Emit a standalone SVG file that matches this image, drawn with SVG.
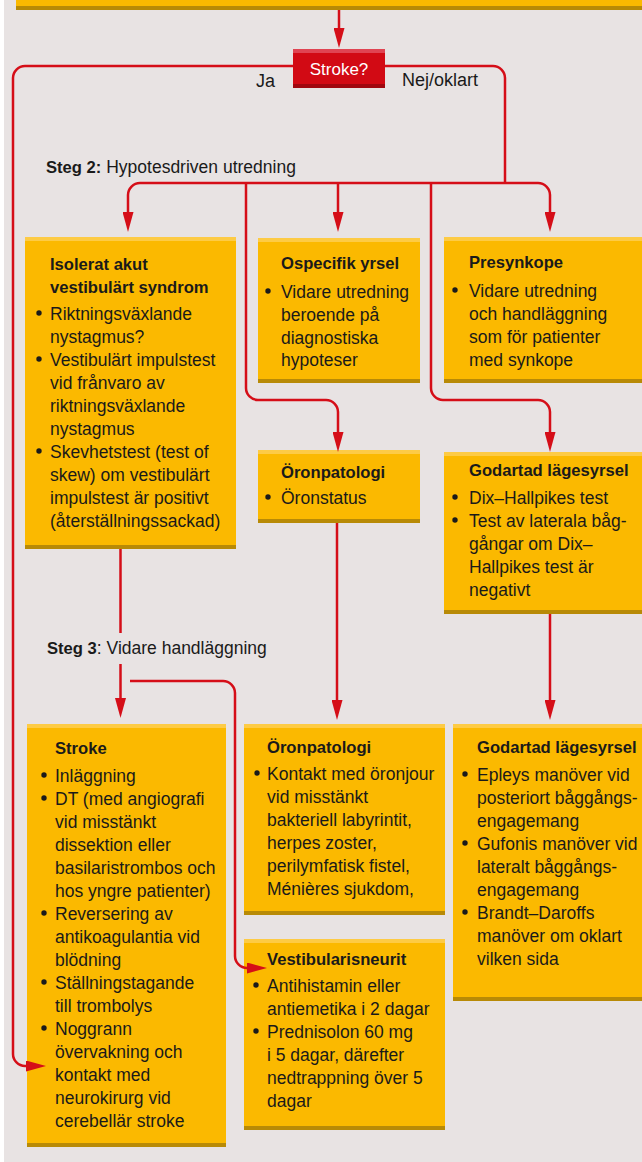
<svg xmlns="http://www.w3.org/2000/svg" width="642" height="1162" viewBox="0 0 642 1162">
<defs>
<style>
.bg{fill:#E8E3E3}
.box{fill:#FBB900}
.top{fill:#FDCB45}
.bot{fill:#B88A06}
.t{font-family:"Liberation Sans",Arial,sans-serif;font-size:17.5px;fill:#1A1A1A}
.b{font-family:"Liberation Sans",Arial,sans-serif;font-size:16.6px;font-weight:bold;fill:#1A1A1A}
.dot{fill:#1A1A1A}
.ln{fill:none;stroke:#D50E18;stroke-width:2.5}
.arr{marker-end:url(#ah)}
</style>
<marker id="ah" markerUnits="userSpaceOnUse" markerWidth="20" markerHeight="11" viewBox="0 0 20 11" refX="4" refY="5.5" orient="auto">
<path d="M0,0 L20,5.5 L0,11 z" fill="#D50E18"/>
</marker>
</defs>
<rect x="0" y="0" width="642" height="1162" fill="#FFFFFF"/>
<rect class="bg" x="4" y="0" width="638" height="1162"/>

<g id="top-box">
<rect class="box" x="16" y="0" width="626" height="10"/>
<rect class="bot" x="16" y="6" width="626" height="4"/>
</g>

<g id="stroke-decision">
<rect x="293" y="49" width="92" height="39" fill="#D20A14"/>
<rect x="293" y="49" width="92" height="4" fill="#E04452"/>
<rect x="293" y="84" width="92" height="4" fill="#A0070F"/>
<text x="339" y="75" text-anchor="middle" style="font-family:'Liberation Sans',Arial,sans-serif;font-size:17px;fill:#FFFFFF">Stroke?</text>
</g>

<g id="labels">
<text class="t" x="256" y="87" style="font-size:18px">Ja</text>
<text class="t" x="402" y="86" style="font-size:18px">Nej/oklart</text>
<text class="t" x="46" y="173"><tspan class="b">Steg 2:</tspan> Hypotesdriven utredning</text>
<text class="t" x="47" y="654"><tspan class="b">Steg 3</tspan>: Vidare handläggning</text>
</g>

<g id="isolerat">
<rect class="box" x="25" y="237" width="211" height="312"/>
<rect class="top" x="25" y="237" width="211" height="4"/>
<rect class="bot" x="25" y="545" width="211" height="4"/>
<text class="b" x="50" y="270">Isolerat akut</text>
<text class="b" x="50" y="293">vestibulärt syndrom</text>
<circle class="dot" cx="39" cy="313" r="2.7"/>
<circle class="dot" cx="39" cy="359" r="2.7"/>
<circle class="dot" cx="39" cy="451" r="2.7"/>
<text class="t" x="50" y="320">Riktningsväxlande</text>
<text class="t" x="50" y="343">nystagmus?</text>
<text class="t" x="50" y="366">Vestibulärt impulstest</text>
<text class="t" x="50" y="389">vid frånvaro av</text>
<text class="t" x="50" y="412">riktningsväxlande</text>
<text class="t" x="50" y="435">nystagmus</text>
<text class="t" x="50" y="458">Skevhetstest (test of</text>
<text class="t" x="50" y="481">skew) om vestibulärt</text>
<text class="t" x="50" y="504">impulstest är positivt</text>
<text class="t" x="50" y="527">(återställningssackad)</text>
</g>

<g id="ospecifik">
<rect class="box" x="258" y="238" width="162" height="145"/>
<rect class="top" x="258" y="238" width="162" height="4"/>
<rect class="bot" x="258" y="379" width="162" height="4"/>
<text class="b" x="281" y="269">Ospecifik yrsel</text>
<circle class="dot" cx="268" cy="291" r="2.7"/>
<text class="t" x="281" y="298">Vidare utredning</text>
<text class="t" x="281" y="321">beroende på</text>
<text class="t" x="281" y="344">diagnostiska</text>
<text class="t" x="281" y="366">hypoteser</text>
</g>

<g id="presynkope">
<rect class="box" x="444" y="237" width="198" height="146"/>
<rect class="top" x="444" y="237" width="198" height="4"/>
<rect class="bot" x="444" y="379" width="198" height="4"/>
<text class="b" x="469" y="268">Presynkope</text>
<circle class="dot" cx="455" cy="290" r="2.7"/>
<text class="t" x="469" y="297">Vidare utredning</text>
<text class="t" x="469" y="320">och handläggning</text>
<text class="t" x="469" y="343">som för patienter</text>
<text class="t" x="469" y="366">med synkope</text>
</g>

<g id="oronpatologi-1">
<rect class="box" x="258" y="450" width="162" height="73"/>
<rect class="top" x="258" y="450" width="162" height="4"/>
<rect class="bot" x="258" y="519" width="162" height="4"/>
<text class="b" x="281" y="478">Öronpatologi</text>
<circle class="dot" cx="268" cy="497" r="2.7"/>
<text class="t" x="281" y="504">Öronstatus</text>
</g>

<g id="godartad-1">
<rect class="box" x="444" y="452" width="198" height="162"/>
<rect class="top" x="444" y="452" width="198" height="4"/>
<rect class="bot" x="444" y="610" width="198" height="4"/>
<text class="b" x="469" y="476">Godartad lägesyrsel</text>
<circle class="dot" cx="455" cy="497" r="2.7"/>
<circle class="dot" cx="455" cy="520" r="2.7"/>
<text class="t" x="469" y="504">Dix–Hallpikes test</text>
<text class="t" x="469" y="527">Test av laterala båg-</text>
<text class="t" x="469" y="550">gångar om Dix–</text>
<text class="t" x="469" y="573">Hallpikes test är</text>
<text class="t" x="469" y="596">negativt</text>
</g>

<g id="stroke">
<rect class="box" x="27" y="724" width="199" height="423"/>
<rect class="top" x="27" y="724" width="199" height="4"/>
<rect class="bot" x="27" y="1143" width="199" height="4"/>
<text class="b" x="55" y="754">Stroke</text>
<circle class="dot" cx="44" cy="775" r="2.7"/>
<circle class="dot" cx="44" cy="798" r="2.7"/>
<circle class="dot" cx="44" cy="913" r="2.7"/>
<circle class="dot" cx="44" cy="982" r="2.7"/>
<circle class="dot" cx="44" cy="1028" r="2.7"/>
<text class="t" x="55" y="782">Inläggning</text>
<text class="t" x="55" y="805">DT (med angiografi</text>
<text class="t" x="55" y="828">vid misstänkt</text>
<text class="t" x="55" y="851">dissektion eller</text>
<text class="t" x="55" y="874">basilaristrombos och</text>
<text class="t" x="55" y="897">hos yngre patienter)</text>
<text class="t" x="55" y="920">Reversering av</text>
<text class="t" x="55" y="943">antikoagulantia vid</text>
<text class="t" x="55" y="966">blödning</text>
<text class="t" x="55" y="989">Ställningstagande</text>
<text class="t" x="55" y="1012">till trombolys</text>
<text class="t" x="55" y="1035">Noggrann</text>
<text class="t" x="55" y="1058">övervakning och</text>
<text class="t" x="55" y="1081">kontakt med</text>
<text class="t" x="55" y="1104">neurokirurg vid</text>
<text class="t" x="55" y="1127">cerebellär stroke</text>
</g>

<g id="oronpatologi-2">
<rect class="box" x="244" y="724" width="201" height="191"/>
<rect class="top" x="244" y="724" width="201" height="4"/>
<rect class="bot" x="244" y="911" width="201" height="4"/>
<text class="b" x="267" y="753">Öronpatologi</text>
<circle class="dot" cx="257" cy="773" r="2.7"/>
<text class="t" x="267" y="780">Kontakt med öronjour</text>
<text class="t" x="267" y="803">vid misstänkt</text>
<text class="t" x="267" y="826">bakteriell labyrintit,</text>
<text class="t" x="267" y="849">herpes zoster,</text>
<text class="t" x="267" y="872">perilymfatisk fistel,</text>
<text class="t" x="267" y="895">Ménières sjukdom,</text>
</g>

<g id="vestibularisneurit">
<rect class="box" x="244" y="939" width="201" height="191"/>
<rect class="top" x="244" y="939" width="201" height="4"/>
<rect class="bot" x="244" y="1126" width="201" height="4"/>
<text class="b" x="267" y="965">Vestibularisneurit</text>
<circle class="dot" cx="256" cy="985" r="2.7"/>
<circle class="dot" cx="256" cy="1031" r="2.7"/>
<text class="t" x="267" y="992">Antihistamin eller</text>
<text class="t" x="267" y="1015">antiemetika i 2 dagar</text>
<text class="t" x="267" y="1038">Prednisolon 60 mg</text>
<text class="t" x="267" y="1061">i 5 dagar, därefter</text>
<text class="t" x="267" y="1084">nedtrappning över 5</text>
<text class="t" x="267" y="1107">dagar</text>
</g>

<g id="godartad-2">
<rect class="box" x="453" y="724" width="189" height="277"/>
<rect class="top" x="453" y="724" width="189" height="4"/>
<rect class="bot" x="453" y="997" width="189" height="4"/>
<text class="b" x="477" y="753">Godartad lägesyrsel</text>
<circle class="dot" cx="465" cy="774" r="2.7"/>
<circle class="dot" cx="465" cy="843" r="2.7"/>
<circle class="dot" cx="465" cy="912" r="2.7"/>
<text class="t" x="477" y="781">Epleys manöver vid</text>
<text class="t" x="477" y="804">posteriort båggångs-</text>
<text class="t" x="477" y="827">engagemang</text>
<text class="t" x="477" y="850">Gufonis manöver vid</text>
<text class="t" x="477" y="873">lateralt båggångs-</text>
<text class="t" x="477" y="896">engagemang</text>
<text class="t" x="477" y="919">Brandt–Daroffs</text>
<text class="t" x="477" y="942">manöver om oklart</text>
<text class="t" x="477" y="965">vilken sida</text>
</g>

<g id="connectors">
<path class="ln arr" d="M339 10 V32"/>
<path class="ln arr" d="M293 66 H25 A12 12 0 0 0 13 78 V1054 A12 12 0 0 0 25 1066 H30"/>
<path class="ln" d="M385 66 H493 A12 12 0 0 1 505 78 V183"/>
<path class="ln arr" d="M339 183 H140 A12 12 0 0 0 128 195 V216"/>
<path class="ln arr" d="M339 183 H538 A12 12 0 0 1 550 195 V216"/>
<path class="ln arr" d="M338 183 V216"/>
<path class="ln arr" d="M246 183 V388 A12 12 0 0 0 258 400 H326 A12 12 0 0 1 338 412 V436"/>
<path class="ln arr" d="M431 183 V388 A12 12 0 0 0 443 400 H538 A12 12 0 0 1 550 412 V436"/>
<path class="ln arr" d="M337 523 V704"/>
<path class="ln arr" d="M550 614 V704"/>
<path class="ln" d="M120.5 549 V633"/>
<path class="ln arr" d="M120.5 664 V702"/>
<path class="ln arr" d="M130 681 H223 A12 12 0 0 1 235 693 V956 A12 12 0 0 0 247 968 H251"/>
</g>
</svg>
